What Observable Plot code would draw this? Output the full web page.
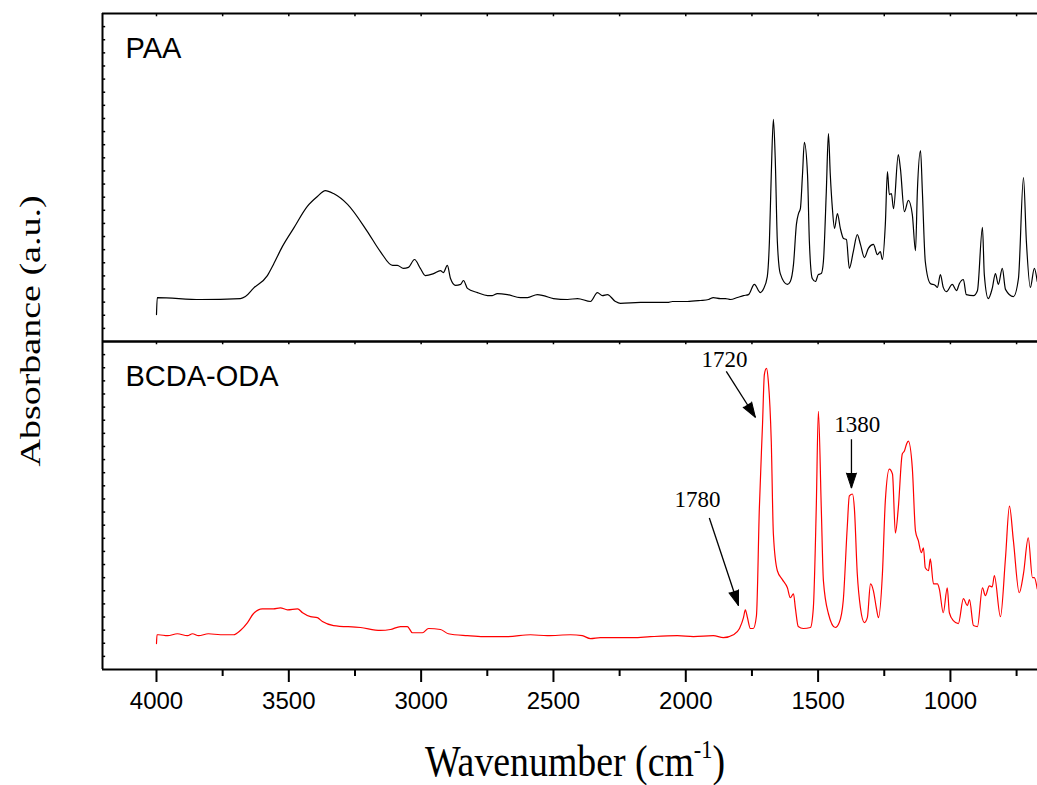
<!DOCTYPE html>
<html><head><meta charset="utf-8">
<script src="https://cdn.jsdelivr.net/npm/d3@7"></script>
<script src="https://cdn.jsdelivr.net/npm/@observablehq/plot@0.6"></script>
<style>body{margin:0;background:#fff;overflow:hidden}</style>
</head><body><div id="chart"></div>
<script>
const samples = ["PAA", "BCDA-ODA"];
const sampleColors = ["#000000", "#ff0000"];

const paaWavenumber = [4000,3997,3834,3683,3664,3634,3581,3558,3524,3482,3430,3392,3362,3331,3278,3203,3154,3108,3090,3067,3048,3025,3003,2984,2953,2927,2916,2901,2889,2870,2851,2840,2825,2787,2749,2731,2712,2674,2625,2598,2561,2538,2500,2447,2409,2360,2334,2315,2296,2266,2247,2171,2069,2050,1994,1945,1914,1896,1869,1850,1831,1805,1782,1763,1741,1718,1707,1692,1684,1677,1669,1662,1654,1643,1616,1605,1593,1582,1574,1567,1559,1552,1540,1533,1522,1510,1499,1488,1480,1469,1461,1454,1446,1438,1427,1416,1404,1393,1382,1367,1352,1340,1325,1310,1291,1276,1265,1257,1246,1238,1231,1223,1215,1197,1189,1174,1159,1144,1132,1125,1113,1106,1095,1076,1057,1049,1038,1027,1015,993,977,966,951,940,913,898,879,872,857,842,830,819,804,792,762,743,724,713,698,683,672];
const paaAbsorbance = [0.082,0.134,0.128,0.131,0.137,0.162,0.201,0.235,0.290,0.345,0.412,0.442,0.460,0.451,0.418,0.335,0.274,0.232,0.232,0.223,0.226,0.250,0.223,0.201,0.207,0.216,0.210,0.232,0.192,0.171,0.174,0.186,0.162,0.149,0.140,0.140,0.146,0.143,0.134,0.134,0.143,0.140,0.131,0.128,0.131,0.122,0.149,0.140,0.143,0.122,0.116,0.119,0.119,0.122,0.122,0.125,0.128,0.134,0.131,0.131,0.128,0.134,0.140,0.143,0.174,0.149,0.159,0.198,0.305,0.509,0.677,0.558,0.305,0.207,0.174,0.183,0.235,0.357,0.390,0.405,0.509,0.607,0.509,0.305,0.192,0.183,0.204,0.207,0.244,0.457,0.634,0.509,0.405,0.345,0.390,0.345,0.314,0.311,0.223,0.274,0.326,0.296,0.256,0.284,0.296,0.265,0.274,0.250,0.357,0.518,0.448,0.451,0.405,0.570,0.527,0.396,0.430,0.387,0.277,0.457,0.582,0.457,0.244,0.177,0.171,0.165,0.204,0.165,0.152,0.174,0.155,0.177,0.189,0.143,0.140,0.155,0.348,0.204,0.131,0.162,0.207,0.174,0.223,0.159,0.137,0.192,0.500,0.305,0.165,0.223,0.183];

const bcdaWavenumber = [4000,3998,3992,3958,3921,3883,3864,3841,3804,3758,3709,3683,3656,3634,3600,3558,3532,3505,3467,3448,3418,3392,3373,3331,3229,3154,3116,3078,3052,3033,2995,2972,2927,2897,2825,2765,2674,2587,2523,2436,2391,2360,2323,2258,2198,2134,2032,1971,1896,1858,1820,1797,1782,1775,1767,1756,1745,1733,1722,1710,1703,1695,1688,1677,1669,1654,1635,1616,1605,1593,1586,1575,1556,1529,1518,1507,1499,1488,1480,1461,1435,1420,1405,1390,1382,1370,1363,1352,1340,1325,1314,1302,1291,1280,1272,1257,1246,1231,1219,1208,1197,1182,1174,1166,1159,1144,1132,1121,1110,1102,1095,1083,1076,1064,1049,1042,1027,1012,1004,989,970,951,936,928,913,898,879,868,853,842,834,811,792,777,762,740,724,706,690,683,672];
const bcdaAbsorbance = [0.079,0.106,0.106,0.103,0.109,0.103,0.109,0.103,0.109,0.106,0.106,0.119,0.143,0.170,0.185,0.185,0.188,0.182,0.185,0.173,0.161,0.158,0.146,0.134,0.128,0.119,0.122,0.131,0.131,0.112,0.112,0.125,0.122,0.109,0.103,0.100,0.100,0.106,0.103,0.106,0.103,0.094,0.097,0.097,0.097,0.100,0.103,0.100,0.103,0.097,0.106,0.125,0.158,0.182,0.158,0.125,0.125,0.164,0.492,0.748,0.900,0.918,0.878,0.696,0.413,0.301,0.274,0.249,0.219,0.231,0.188,0.131,0.125,0.128,0.188,0.492,0.787,0.492,0.271,0.170,0.128,0.143,0.210,0.432,0.529,0.535,0.492,0.292,0.188,0.143,0.158,0.261,0.240,0.188,0.158,0.292,0.514,0.611,0.596,0.416,0.492,0.657,0.666,0.687,0.696,0.614,0.422,0.392,0.356,0.371,0.310,0.301,0.337,0.261,0.261,0.246,0.173,0.249,0.173,0.149,0.140,0.216,0.195,0.213,0.134,0.131,0.249,0.225,0.255,0.252,0.286,0.161,0.340,0.498,0.392,0.234,0.292,0.401,0.280,0.280,0.246];

const xDomain = [4204, 671];
const majorTicks = [4000, 3500, 3000, 2500, 2000, 1500, 1000];
const minorTicks = [3750, 3250, 2750, 2250, 1750, 1250, 750];
const leftTicks = d3.range(1, 25).map(i => i * 0.04);

// annotations (BCDA-ODA panel)
const annLabels = ["1780", "1720", "1380"];
const annLabelW = [1956, 1854, 1352];
const annLabelA = [0.517, 0.945, 0.748];
const annTailW = [1911, 1847, 1374];
const annTailA = [0.462, 0.909, 0.702];
const annTipW = [1801, 1737, 1374];
const annTipA = [0.195, 0.769, 0.553];
const annAngle = [161.8, 147.8, 180];

const rows = [
  ...paaWavenumber.map((w, i) => ({sample: "PAA", wavenumber: w, absorbance: paaAbsorbance[i]})),
  ...bcdaWavenumber.map((w, i) => ({sample: "BCDA-ODA", wavenumber: w, absorbance: bcdaAbsorbance[i]}))
];
const ann = annLabels.map((t, i) => ({
  sample: "BCDA-ODA", label: t, lw: annLabelW[i], la: annLabelA[i],
  tw: annTailW[i], ta: annTailA[i], pw: annTipW[i], pa: annTipA[i], angle: annAngle[i]
}));
const panelLabels = samples.map(s => ({sample: s}));

const chart = Plot.plot({
  width: 1037, height: 785,
  marginLeft: 102, marginRight: 0, marginTop: 12, marginBottom: 116,
  style: {fontFamily: "'Liberation Sans', Arial, sans-serif", fontSize: "24px", color: "#000", background: "#fff"},
  x: {domain: xDomain, axis: null},
  y: {domain: [0, 1], axis: null},
  fy: {domain: samples, padding: 0, axis: null},
  color: {domain: samples, range: sampleColors},
  marks: [
    Plot.line(rows, {x: "wavenumber", y: "absorbance", fy: "sample", stroke: "sample", strokeWidth: 1.2, curve: "monotone-x", clip: true}),
    // frame
    Plot.ruleY([0, 1], {stroke: "#000", strokeWidth: 2}),
    Plot.ruleX([xDomain[0]], {stroke: "#000", strokeWidth: 2}),
    // inner ticks on left and top edges
    Plot.ruleY(leftTicks, {x1: xDomain[0], x2: xDomain[0] - 12, stroke: "#000", strokeWidth: 1.5}),
    Plot.ruleX([...majorTicks, ...minorTicks], {y1: 1, y2: 0.99, stroke: "#000", strokeWidth: 1.5}),
    // bottom axis
    Plot.axisX(majorTicks, {tickSize: 13, tickPadding: 9, tickFormat: "d", strokeWidth: 2, fontSize: 24, label: null}),
    Plot.axisX(minorTicks, {tickSize: 7, tickFormat: () => "", strokeWidth: 2, label: null}),
    // panel labels
    Plot.text(panelLabels, {fy: "sample", text: "sample", frameAnchor: "top-left", textAnchor: "start", lineAnchor: "middle", dx: 23, dy: 35, fontSize: 29, fill: "#000"}),
    // annotations
    Plot.link(ann, {fy: "sample", x1: "tw", y1: "ta", x2: "pw", y2: "pa", stroke: "#000", strokeWidth: 1.3}),
    Plot.vector(ann, {fy: "sample", x: "pw", y: "pa", rotate: "angle", length: 15, r: 5, shape: "spike", anchor: "end", fill: "#000", stroke: "#000", strokeWidth: 1}),
    Plot.text(ann, {fy: "sample", x: "lw", y: "la", text: "label", fontFamily: "'Liberation Serif', 'Times New Roman', serif", fontSize: 23, fill: "#000"})
  ]
});

const svg = d3.select(chart);
svg.append("text")
  .attr("transform", "translate(29,331) rotate(-90) scale(1,0.8)")
  .attr("text-anchor", "middle")
  .attr("dominant-baseline", "central")
  .attr("font-family", "'Liberation Serif', 'Times New Roman', serif")
  .attr("font-size", 38)
  .attr("fill", "#000")
  .text("Absorbance (a.u.)");

const xl = svg.append("text")
  .attr("transform", "translate(575,776) scale(0.86,1)")
  .attr("text-anchor", "middle")
  .attr("font-family", "'Liberation Serif', 'Times New Roman', serif")
  .attr("font-size", 44)
  .attr("fill", "#000");
xl.append("tspan").text("Wavenumber (cm");
xl.append("tspan").attr("font-size", 26).attr("dy", -18).text("-1");
xl.append("tspan").attr("dy", 18).text(")");

document.getElementById("chart").appendChild(chart);
</script>
</body></html>
